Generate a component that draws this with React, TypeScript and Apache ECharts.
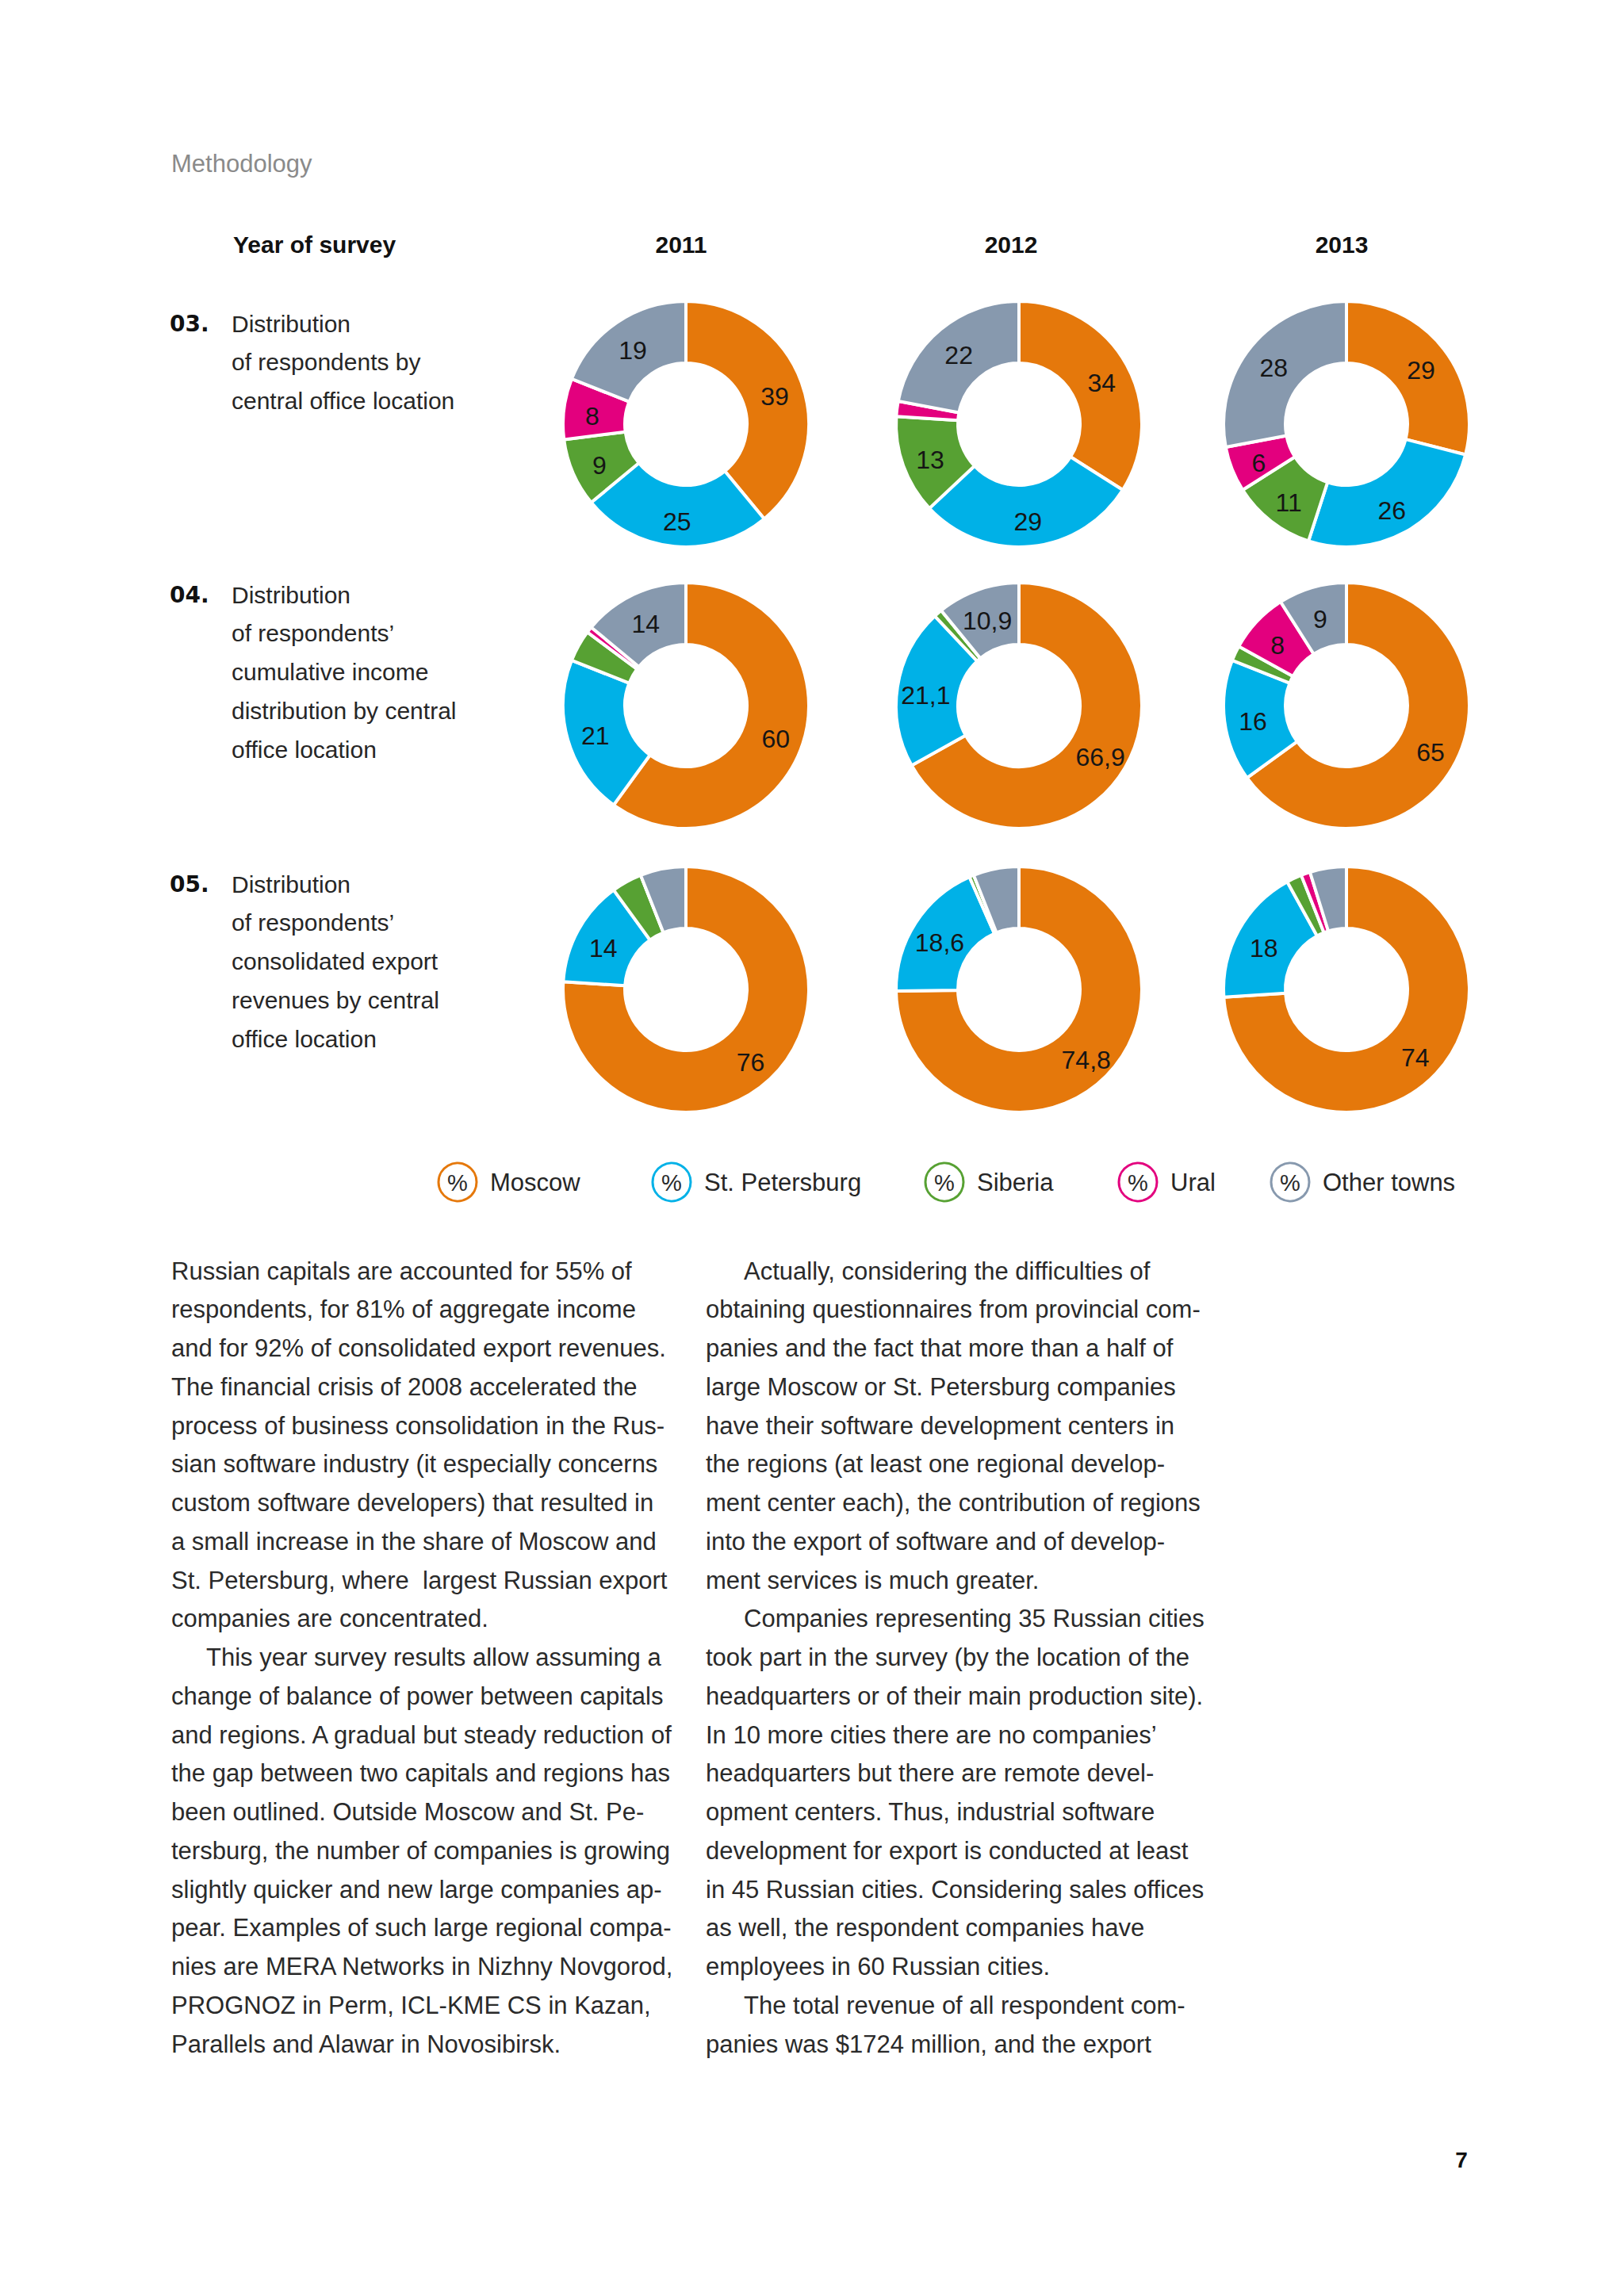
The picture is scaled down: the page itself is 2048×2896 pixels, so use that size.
import React, { useEffect, useRef } from "react";
import * as echarts from "echarts";

// ---------- data ----------
const years = ["2011", "2012", "2013"];
const regions = ["Moscow", "St. Petersburg", "Siberia", "Ural", "Other towns"];
const regionColors = ["#E5780B", "#00B1E7", "#57A133", "#E3007E", "#8799AE"];

// 03. Distribution of respondents by central office location, %
const respondents2011 = [39, 25, 9, 8, 19];
const respondents2012 = [34, 29, 13, 2, 22];
const respondents2013 = [29, 26, 11, 6, 28];
const respondentLabels2011 = ["39", "25", "9", "8", "19"];
const respondentLabels2012 = ["34", "29", "13", "", "22"];
const respondentLabels2013 = ["29", "26", "11", "6", "28"];

// 04. Distribution of respondents' cumulative income, %
const income2011 = [60, 21, 4.2, 0.8, 14];
const income2012 = [66.9, 21.1, 1.1, 0, 10.9];
const income2013 = [65, 16, 2, 8, 9];
const incomeLabels2011 = ["60", "21", "", "", "14"];
const incomeLabels2012 = ["66,9", "21,1", "", "", "10,9"];
const incomeLabels2013 = ["65", "16", "", "8", "9"];

// 05. Distribution of respondents' consolidated export revenues, %
const export2011 = [76, 14, 4, 0, 6];
const export2012 = [74.8, 18.6, 0.6, 0, 6];
const export2013 = [74, 18, 2, 1.2, 4.8];
const exportLabels2011 = ["76", "14", "", "", ""];
const exportLabels2012 = ["74,8", "18,6", "", "", ""];
const exportLabels2013 = ["74", "18", "", "", ""];

const rowNumbers = ["03.", "04.", "05."];
const rowTitle03 = ["Distribution", "of respondents by", "central office location"];
const rowTitle04 = [
  "Distribution",
  "of respondents’",
  "cumulative income",
  "distribution by central",
  "office location",
];
const rowTitle05 = [
  "Distribution",
  "of respondents’",
  "consolidated export",
  "revenues by central",
  "office location",
];

const leftColumn = [
  "Russian capitals are accounted for 55% of",
  "respondents, for 81% of aggregate income",
  "and for 92% of consolidated export revenues.",
  "The financial crisis of 2008 accelerated the",
  "process of business consolidation in the Rus-",
  "sian software industry (it especially concerns",
  "custom software developers) that resulted in",
  "a small increase in the share of Moscow and",
  "St. Petersburg, where  largest Russian export",
  "companies are concentrated.",
  "This year survey results allow assuming a",
  "change of balance of power between capitals",
  "and regions. A gradual but steady reduction of",
  "the gap between two capitals and regions has",
  "been outlined. Outside Moscow and St. Pe-",
  "tersburg, the number of companies is growing",
  "slightly quicker and new large companies ap-",
  "pear. Examples of such large regional compa-",
  "nies are MERA Networks in Nizhny Novgorod,",
  "PROGNOZ in Perm, ICL-KME CS in Kazan,",
  "Parallels and Alawar in Novosibirsk.",
];
const leftIndented = [10];
const rightColumn = [
  "Actually, considering the difficulties of",
  "obtaining questionnaires from provincial com-",
  "panies and the fact that more than a half of",
  "large Moscow or St. Petersburg companies",
  "have their software development centers in",
  "the regions (at least one regional develop-",
  "ment center each), the contribution of regions",
  "into the export of software and of develop-",
  "ment services is much greater.",
  "Companies representing 35 Russian cities",
  "took part in the survey (by the location of the",
  "headquarters or of their main production site).",
  "In 10 more cities there are no companies’",
  "headquarters but there are remote devel-",
  "opment centers. Thus, industrial software",
  "development for export is conducted at least",
  "in 45 Russian cities. Considering sales offices",
  "as well, the respondent companies have",
  "employees in 60 Russian cities.",
  "The total revenue of all respondent com-",
  "panies was $1724 million, and the export",
];
const rightIndented = [0, 9, 19];

// ---------- layout ----------
const FONT = "'Liberation Sans', Arial, Helvetica, sans-serif";
const colX = [865, 1285, 1698];
const rowY = [535, 890, 1248];

const rows = [
  {
    values: [respondents2011, respondents2012, respondents2013],
    labels: [respondentLabels2011, respondentLabels2012, respondentLabels2013],
  },
  {
    values: [income2011, income2012, income2013],
    labels: [incomeLabels2011, incomeLabels2012, incomeLabels2013],
  },
  {
    values: [export2011, export2012, export2013],
    labels: [exportLabels2011, exportLabels2012, exportLabels2013],
  },
];
const rowTitles = [rowTitle03, rowTitle04, rowTitle05];
const rowTitleY = [408, 750, 1115];

function txt(x: number, y: number, text: string, o: any = {}) {
  return {
    type: "text",
    x,
    y,
    silent: true,
    style: {
      text,
      fontSize: o.fontSize ?? 30,
      fontFamily: o.fontFamily ?? FONT,
      fontWeight: o.fontWeight ?? "normal",
      fill: o.fill ?? "#222",
      align: o.align ?? "left",
      verticalAlign: "middle",
    },
  };
}

function buildOption() {
  const series: any[] = [];
  rows.forEach((row, r) => {
    row.values.forEach((vals, c) => {
      const labs = row.labels[c];
      series.push({
        type: "pie",
        name: `${rowNumbers[r]} ${years[c]}`,
        center: [colX[c], rowY[r]],
        radius: [77, 155],
        startAngle: 90,
        clockwise: true,
        avoidLabelOverlap: false,
        silent: true,
        minAngle: 0,
        itemStyle: { borderColor: "#ffffff", borderWidth: 4 },
        emphasis: { disabled: true },
        labelLine: { show: false },
        label: {
          show: true,
          position: "inside",
          fontSize: 32,
          fontFamily: FONT,
          color: "#151515",
          offset: [0, 5],
          formatter: (p: any) => labs[p.dataIndex],
        },
        data: vals.map((v, i) => ({
          name: regions[i],
          value: v,
          itemStyle: { color: regionColors[i] },
        })),
      });
    });
  });

  const g: any[] = [];
  g.push(txt(216, 206, "Methodology", { fontSize: 31, fill: "#8a8a8a" }));
  g.push(txt(294, 308, "Year of survey", { fontSize: 30, fontWeight: "bold", fill: "#111" }));
  const yearX = [859, 1275, 1692];
  years.forEach((y, i) =>
    g.push(txt(yearX[i], 308, y, { fontSize: 30, fontWeight: "bold", fill: "#111", align: "center" }))
  );

  rowTitles.forEach((lines, r) => {
    g.push(
      txt(214, rowTitleY[r], rowNumbers[r], {
        fontSize: 28,
        fontWeight: 900,
        fontFamily: "'DejaVu Sans', sans-serif",
        fill: "#111",
      })
    );
    lines.forEach((l, i) => g.push(txt(292, rowTitleY[r] + i * 48.8, l, { fill: "#262626" })));
  });

  // legend
  const legCircleX = [577, 847, 1191, 1435, 1627];
  const legY = 1491;
  regions.forEach((name, i) => {
    g.push({
      type: "circle",
      silent: true,
      shape: { cx: legCircleX[i], cy: legY, r: 24 },
      style: { fill: "#fff", stroke: regionColors[i], lineWidth: 3 },
    });
    g.push(txt(legCircleX[i], legY + 1, "%", { fontSize: 29, align: "center", fill: "#2a2a2a" }));
    g.push(txt(legCircleX[i] + 41, legY, name, { fontSize: 31, fill: "#262626" }));
  });

  // body text
  const bodyY0 = 1603;
  const lh = 48.75;
  leftColumn.forEach((l, i) => {
    const x = leftIndented.includes(i) ? 260 : 216;
    g.push(txt(x, bodyY0 + i * lh, l, { fontSize: 31, fill: "#2a2a2a" }));
  });
  rightColumn.forEach((l, i) => {
    const x = rightIndented.includes(i) ? 938 : 890;
    g.push(txt(x, bodyY0 + i * lh, l, { fontSize: 31, fill: "#2a2a2a" }));
  });

  g.push(txt(1843, 2724, "7", { fontSize: 28, fontWeight: "bold", fill: "#111", align: "center" }));

  return {
    animation: false,
    backgroundColor: "#ffffff",
    series,
    graphic: { elements: g },
  };
}

export default function App() {
  const ref = useRef<HTMLDivElement>(null);
  useEffect(() => {
    document.body.style.margin = "0";
    if (!ref.current) return;
    const chart = echarts.init(ref.current, null, { renderer: "svg", width: 2048, height: 2896 });
    chart.setOption(buildOption() as any);
    return () => chart.dispose();
  }, []);
  return <div ref={ref} style={{ width: 2048, height: 2896 }} />;
}
